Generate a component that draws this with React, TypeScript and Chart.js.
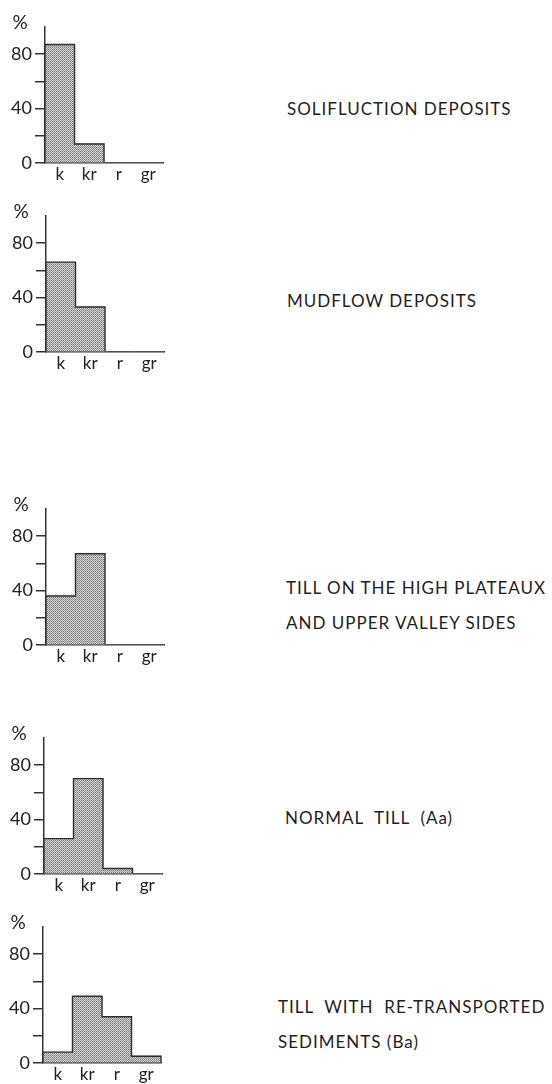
import React, { useEffect, useRef } from 'react';
import { Chart, registerables } from 'chart.js';

Chart.register(...registerables);

// ---- data ----
const categories = ['k', 'kr', 'r', 'gr'];
const solifluction = [87, 14, 0, 0];
const mudflow = [66, 33, 0, 0];
const tillPlateaux = [36, 67, 0, 0];
const normalTill = [26, 70, 4, 0];
const tillRetransported = [8, 49, 34, 5];
const yTickLabels = [0, 40, 80];
const yMax = 100;
const yStep = 20;

const labelSolifluction = ['SOLIFLUCTION DEPOSITS'];
const labelMudflow = ['MUDFLOW DEPOSITS'];
const labelTillPlateaux = ['TILL ON THE HIGH PLATEAUX', 'AND UPPER VALLEY SIDES'];
const labelNormalTill = ['NORMAL  TILL  (Aa)'];
const labelTillRetransported = ['TILL  WITH  RE-TRANSPORTED', 'SEDIMENTS (Ba)'];

// ---- layout ----
const FONT = 'Lato, "Open Sans", sans-serif';
const AXIS_W = 45;
const PLOT_H = 145;
const PAD_TOP = 5;
const XAXIS_H = 25;
const CANVAS_W = 180;
const PAD_RIGHT = 17;

const panels = [
  { values: solifluction, zeroY: 163, axisX: 45, label: labelSolifluction, labelX: 287, labelY: 108 },
  { values: mudflow, zeroY: 352, axisX: 46, label: labelMudflow, labelX: 287, labelY: 300 },
  { values: tillPlateaux, zeroY: 645, axisX: 46, label: labelTillPlateaux, labelX: 286, labelY: 587 },
  { values: normalTill, zeroY: 874, axisX: 44, label: labelNormalTill, labelX: 285, labelY: 817 },
  { values: tillRetransported, zeroY: 1063, axisX: 43, label: labelTillRetransported, labelX: 278, labelY: 1006 },
];

function makePattern(): CanvasPattern | string {
  const c = document.createElement('canvas');
  c.width = 2;
  c.height = 2;
  const g = c.getContext('2d');
  if (!g) return '#b5b5b5';
  g.fillStyle = '#d2d2d2';
  g.fillRect(0, 0, 2, 2);
  g.fillStyle = '#7a7a7a';
  g.fillRect(0, 0, 1, 1);
  g.fillStyle = '#989898';
  g.fillRect(1, 1, 1, 1);
  const p = g.createPattern(c, 'repeat');
  return p || '#b5b5b5';
}

const outlinePlugin = {
  id: 'stepOutline',
  afterDatasetsDraw(chart: any) {
    const meta = chart.getDatasetMeta(0);
    const bars = meta.data;
    const data = chart.data.datasets[0].data as number[];
    let last = -1;
    data.forEach((v, i) => {
      if (v > 0) last = i;
    });
    if (last < 0) return;
    const ctx = chart.ctx;
    ctx.save();
    ctx.strokeStyle = '#2e2e2e';
    ctx.lineWidth = 1.4;
    ctx.lineJoin = 'miter';
    ctx.beginPath();
    let endX = 0;
    let baseY = 0;
    for (let i = 0; i <= last; i++) {
      const b = bars[i].getProps(['x', 'y', 'base', 'width'], true);
      const l = b.x - b.width / 2;
      const r = b.x + b.width / 2;
      if (i === 0) ctx.moveTo(l, b.base);
      ctx.lineTo(l, b.y);
      ctx.lineTo(r, b.y);
      endX = r;
      baseY = b.base;
    }
    ctx.lineTo(endX, baseY);
    ctx.stroke();
    ctx.restore();
  },
};

function Histogram({ values, top, left }: { values: number[]; top: number; left: number }) {
  const ref = useRef<HTMLCanvasElement | null>(null);
  useEffect(() => {
    const canvas = ref.current;
    if (!canvas) return;
    const chart = new Chart(canvas, {
      type: 'bar',
      data: {
        labels: categories,
        datasets: [
          {
            data: values,
            backgroundColor: makePattern() as any,
            borderWidth: 0,
            barPercentage: 1,
            categoryPercentage: 1,
          },
        ],
      },
      options: {
        responsive: false,
        animation: false,
        devicePixelRatio: 1,
        layout: { padding: { top: PAD_TOP, right: PAD_RIGHT, left: 0, bottom: 0 } },
        plugins: { legend: { display: false }, tooltip: { enabled: false } },
        scales: {
          x: {
            grid: { display: true, drawOnChartArea: false, drawTicks: false },
            border: { display: true, color: '#333', width: 1.5 },
            ticks: { font: { family: FONT, size: 17 }, color: '#222', padding: 1, maxRotation: 0 },
            afterFit: (s: any) => {
              s.height = XAXIS_H;
            },
          },
          y: {
            min: 0,
            max: yMax,
            ticks: {
              stepSize: yStep,
              callback: (v: any) => (yTickLabels.includes(Number(v)) ? String(v) : ''),
              font: { family: FONT, size: 18 },
              color: '#222',
              padding: 3,
            },
            grid: {
              drawOnChartArea: false,
              drawTicks: true,
              tickLength: 10,
              lineWidth: 1.5,
              color: (ctx: any) => (ctx.tick && ctx.tick.value === yMax ? 'rgba(0,0,0,0)' : '#333'),
            },
            border: { display: true, color: '#333', width: 1.5 },
            afterFit: (s: any) => {
              s.width = AXIS_W;
            },
          },
        },
      },
      plugins: [outlinePlugin],
    });
    return () => chart.destroy();
  }, [values]);
  return (
    <canvas
      ref={ref}
      width={CANVAS_W}
      height={PAD_TOP + PLOT_H + XAXIS_H}
      style={{ position: 'absolute', left, top, width: CANVAS_W, height: PAD_TOP + PLOT_H + XAXIS_H }}
    />
  );
}

export default function App() {
  const LINE_H = 35;
  return (
    <div style={{ position: 'absolute', left: 0, top: 0, width: 552, height: 1084, background: '#fff', fontFamily: FONT }}>
      {panels.map((p, i) => (
        <React.Fragment key={i}>
          <Histogram values={p.values} top={p.zeroY - PLOT_H - PAD_TOP} left={p.axisX - AXIS_W} />
          <div
            style={{
              position: 'absolute',
              left: p.axisX - 36,
              top: p.zeroY - 141 - 11,
              width: 22,
              lineHeight: '22px',
              fontSize: 19,
              color: '#222',
              textAlign: 'center',
            }}
          >
            %
          </div>
          <div
            style={{
              position: 'absolute',
              left: p.labelX,
              top: p.labelY - LINE_H / 2,
              fontSize: 17,
              letterSpacing: '1px',
              lineHeight: LINE_H + 'px',
              color: '#1e1e1e',
              whiteSpace: 'pre',
            }}
          >
            {p.label.map((l, j) => (
              <div key={j}>{l}</div>
            ))}
          </div>
        </React.Fragment>
      ))}
    </div>
  );
}
